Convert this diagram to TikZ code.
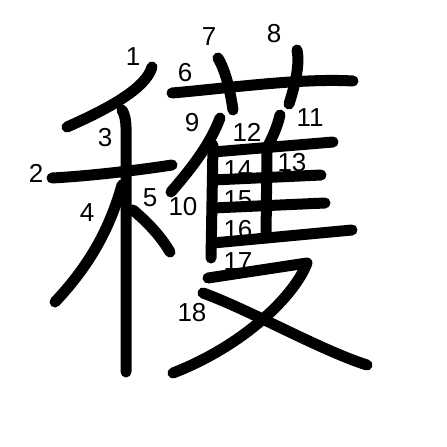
\documentclass[tikz,border=0pt]{standalone}
\usepackage{fontspec}
\setmainfont{Liberation Sans}

\begin{document}
\begin{tikzpicture}[x=1pt, y=-1pt, every node/.style={font=\fontsize{26}{26}\selectfont, inner sep=0pt}, stroke/.style={line width=11pt, line cap=round, line join=round}]
\useasboundingbox (0,0) rectangle (447,447);
% stroke numbers
\node (n1) at (133,57) {1};
\node (n2) at (36,173) {2};
\node (n3) at (105,138) {3};
\node (n4) at (87,213) {4};
\node (n5) at (150,198) {5};
\node (n6) at (185,73) {6};
\node (n7) at (209,37) {7};
\node (n8) at (274,34) {8};
\node (n9) at (192,123) {9};
\node (n10) at (183,207) {10};
\node (n11) at (310,118) {11};
\node (n12) at (247,132) {12};
\node (n13) at (292,163) {13};
\node (n14) at (238,170) {14};
\node (n15) at (238,200) {15};
\node (n16) at (238,230) {16};
\node (n17) at (238,262) {17};
\node (n18) at (192,313) {18};
% strokes
\draw[stroke] (152,67) .. controls (146,88) and (110,108) .. (67,127);
\draw[stroke] (52,178) .. controls (90,176) and (140,170) .. (172,165);
\draw[stroke] (122,110) .. controls (127,118) and (126,130) .. (126,140) -- (126,372);
\draw[stroke] (122,185) .. controls (108,235) and (85,270) .. (55,302);
\draw[stroke] (133,210) .. controls (147,222) and (160,235) .. (170,252);
\draw[stroke] (172,93) .. controls (230,88) and (300,78) .. (353,81);
\draw[stroke] (218,58) .. controls (226,72) and (230,90) .. (233,110);
\draw[stroke] (297,50) .. controls (300,65) and (295,85) .. (289,104);
\draw[stroke] (220,118) .. controls (210,145) and (190,170) .. (171,192);
\draw[stroke] (213,145) -- (211,258);
\draw[stroke] (280,115) .. controls (277,128) and (272,138) .. (267,148);
\draw[stroke] (213,152) -- (333,142);
\draw[stroke] (267,150) -- (266,238);
\draw[stroke] (213,180) -- (321,175);
\draw[stroke] (213,208) -- (325,203);
\draw[stroke] (213,243) -- (352,230);
\draw[stroke] (208,278) -- (307,263) .. controls (295,295) and (245,345) .. (173,373);
\draw[stroke] (203,293) .. controls (250,310) and (320,350) .. (367,365);
\end{tikzpicture}
\end{document}
